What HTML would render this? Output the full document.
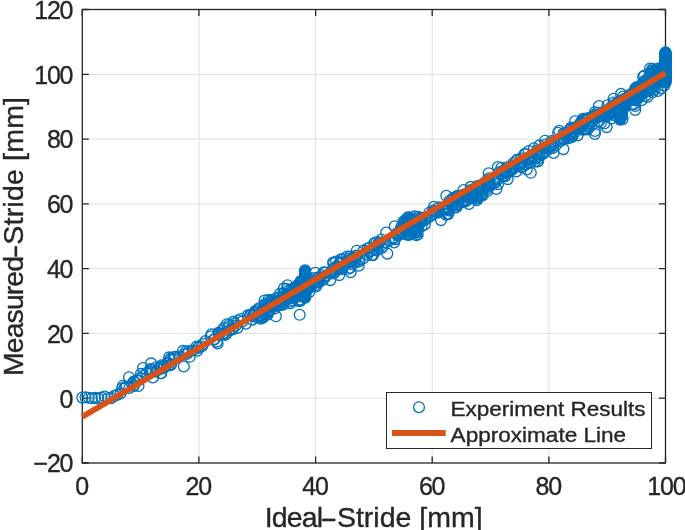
<!DOCTYPE html>
<html><head><meta charset="utf-8"><title>Stride plot</title>
<style>
html,body{margin:0;padding:0;background:#fff}
body{width:685px;height:530px;overflow:hidden;position:relative;font-family:"Liberation Sans",sans-serif;color:#262626}
svg{position:absolute;left:0;top:0}
svg text{font-family:"Liberation Sans",sans-serif;fill:#262626;stroke:#262626;stroke-width:0.35px}
.lbl{position:absolute;white-space:nowrap;line-height:1;color:#262626;-webkit-text-stroke:0.35px #262626}
.hy{display:inline-block}
</style></head><body>
<svg width="685" height="530" viewBox="0 0 685 530">
<rect width="685" height="530" fill="#fff"/>
<g stroke="#dfdfdf" stroke-width="1" fill="none"><path d="M198.9 9.5V463.0"/><path d="M315.6 9.5V463.0"/><path d="M432.2 9.5V463.0"/><path d="M548.9 9.5V463.0"/><path d="M82.3 398.2H665.5"/><path d="M82.3 333.4H665.5"/><path d="M82.3 268.6H665.5"/><path d="M82.3 203.9H665.5"/><path d="M82.3 139.1H665.5"/><path d="M82.3 74.3H665.5"/></g>
<g stroke="#262626" stroke-width="1.3" fill="none"><path d="M82.3 463.0v-6.5M82.3 9.5v6.5"/><path d="M198.9 463.0v-6.5M198.9 9.5v6.5"/><path d="M315.6 463.0v-6.5M315.6 9.5v6.5"/><path d="M432.2 463.0v-6.5M432.2 9.5v6.5"/><path d="M548.9 463.0v-6.5M548.9 9.5v6.5"/><path d="M665.5 463.0v-6.5M665.5 9.5v6.5"/><path d="M82.3 463.0h6.5M665.5 463.0h-6.5"/><path d="M82.3 398.2h6.5M665.5 398.2h-6.5"/><path d="M82.3 333.4h6.5M665.5 333.4h-6.5"/><path d="M82.3 268.6h6.5M665.5 268.6h-6.5"/><path d="M82.3 203.9h6.5M665.5 203.9h-6.5"/><path d="M82.3 139.1h6.5M665.5 139.1h-6.5"/><path d="M82.3 74.3h6.5M665.5 74.3h-6.5"/><path d="M82.3 9.5h6.5M665.5 9.5h-6.5"/><rect x="82.3" y="9.5" width="583.2" height="453.5"/></g>
<g stroke="#0072bd" stroke-width="1.3" fill="none"><circle cx="82.3" cy="397.6" r="5.4"/><circle cx="85.5" cy="397.3" r="5.4"/><circle cx="88.7" cy="397.8" r="5.4"/><circle cx="91.9" cy="398.3" r="5.4"/><circle cx="95.1" cy="397.9" r="5.4"/><circle cx="98.3" cy="398.4" r="5.4"/><circle cx="101.5" cy="397.5" r="5.4"/><circle cx="104.8" cy="396.5" r="5.4"/><circle cx="108.0" cy="398.0" r="5.4"/><circle cx="111.2" cy="398.1" r="5.4"/><circle cx="114.4" cy="395.9" r="5.4"/><circle cx="117.6" cy="394.6" r="5.4"/><circle cx="120.8" cy="393.3" r="5.4"/><circle cx="156.2" cy="367.2" r="5.4"/><circle cx="160.8" cy="373.3" r="5.4"/><circle cx="164.6" cy="366.3" r="5.4"/><circle cx="198.6" cy="347.0" r="5.4"/><circle cx="183.0" cy="350.9" r="5.4"/><circle cx="169.9" cy="359.8" r="5.4"/><circle cx="198.1" cy="348.0" r="5.4"/><circle cx="138.5" cy="380.3" r="5.4"/><circle cx="134.3" cy="382.3" r="5.4"/><circle cx="169.1" cy="357.4" r="5.4"/><circle cx="125.3" cy="387.9" r="5.4"/><circle cx="124.7" cy="387.8" r="5.4"/><circle cx="161.6" cy="365.3" r="5.4"/><circle cx="157.8" cy="368.8" r="5.4"/><circle cx="192.6" cy="350.5" r="5.4"/><circle cx="170.4" cy="365.3" r="5.4"/><circle cx="161.5" cy="366.5" r="5.4"/><circle cx="160.2" cy="368.6" r="5.4"/><circle cx="141.0" cy="373.9" r="5.4"/><circle cx="122.9" cy="385.7" r="5.4"/><circle cx="136.8" cy="380.2" r="5.4"/><circle cx="175.2" cy="356.9" r="5.4"/><circle cx="137.4" cy="380.8" r="5.4"/><circle cx="150.4" cy="369.0" r="5.4"/><circle cx="122.2" cy="388.2" r="5.4"/><circle cx="185.9" cy="351.5" r="5.4"/><circle cx="133.8" cy="385.9" r="5.4"/><circle cx="142.6" cy="375.7" r="5.4"/><circle cx="189.7" cy="356.8" r="5.4"/><circle cx="161.2" cy="373.2" r="5.4"/><circle cx="187.2" cy="353.7" r="5.4"/><circle cx="171.2" cy="364.2" r="5.4"/><circle cx="179.1" cy="356.5" r="5.4"/><circle cx="129.0" cy="377.2" r="5.4"/><circle cx="163.6" cy="368.0" r="5.4"/><circle cx="161.0" cy="368.7" r="5.4"/><circle cx="189.0" cy="351.1" r="5.4"/><circle cx="149.8" cy="371.2" r="5.4"/><circle cx="168.0" cy="363.5" r="5.4"/><circle cx="126.5" cy="386.5" r="5.4"/><circle cx="151.8" cy="369.4" r="5.4"/><circle cx="146.8" cy="372.7" r="5.4"/><circle cx="133.5" cy="385.3" r="5.4"/><circle cx="184.8" cy="354.3" r="5.4"/><circle cx="151.2" cy="371.9" r="5.4"/><circle cx="197.3" cy="350.7" r="5.4"/><circle cx="167.4" cy="362.5" r="5.4"/><circle cx="168.5" cy="365.5" r="5.4"/><circle cx="171.1" cy="358.2" r="5.4"/><circle cx="174.0" cy="359.1" r="5.4"/><circle cx="133.6" cy="381.6" r="5.4"/><circle cx="155.9" cy="371.4" r="5.4"/><circle cx="140.4" cy="378.4" r="5.4"/><circle cx="152.9" cy="377.5" r="5.4"/><circle cx="129.4" cy="387.9" r="5.4"/><circle cx="196.5" cy="346.6" r="5.4"/><circle cx="138.5" cy="386.0" r="5.4"/><circle cx="173.7" cy="357.2" r="5.4"/><circle cx="219.1" cy="334.9" r="5.4"/><circle cx="254.2" cy="314.2" r="5.4"/><circle cx="232.4" cy="329.5" r="5.4"/><circle cx="218.8" cy="333.5" r="5.4"/><circle cx="214.8" cy="339.0" r="5.4"/><circle cx="254.5" cy="314.8" r="5.4"/><circle cx="224.9" cy="335.0" r="5.4"/><circle cx="256.1" cy="317.3" r="5.4"/><circle cx="229.0" cy="324.7" r="5.4"/><circle cx="229.3" cy="330.5" r="5.4"/><circle cx="251.2" cy="315.3" r="5.4"/><circle cx="242.3" cy="321.5" r="5.4"/><circle cx="232.8" cy="328.3" r="5.4"/><circle cx="223.8" cy="333.7" r="5.4"/><circle cx="250.2" cy="314.8" r="5.4"/><circle cx="222.9" cy="333.5" r="5.4"/><circle cx="252.8" cy="315.8" r="5.4"/><circle cx="202.9" cy="344.1" r="5.4"/><circle cx="224.0" cy="328.1" r="5.4"/><circle cx="229.2" cy="326.7" r="5.4"/><circle cx="254.4" cy="313.1" r="5.4"/><circle cx="213.6" cy="339.8" r="5.4"/><circle cx="245.9" cy="323.7" r="5.4"/><circle cx="238.4" cy="320.6" r="5.4"/><circle cx="240.8" cy="319.1" r="5.4"/><circle cx="235.7" cy="325.7" r="5.4"/><circle cx="255.6" cy="311.9" r="5.4"/><circle cx="218.3" cy="332.7" r="5.4"/><circle cx="222.2" cy="330.3" r="5.4"/><circle cx="210.8" cy="336.6" r="5.4"/><circle cx="201.9" cy="346.2" r="5.4"/><circle cx="211.4" cy="334.4" r="5.4"/><circle cx="252.3" cy="319.6" r="5.4"/><circle cx="247.9" cy="315.3" r="5.4"/><circle cx="205.5" cy="341.1" r="5.4"/><circle cx="234.2" cy="323.3" r="5.4"/><circle cx="226.9" cy="324.2" r="5.4"/><circle cx="233.6" cy="321.6" r="5.4"/><circle cx="237.4" cy="327.9" r="5.4"/><circle cx="216.8" cy="341.6" r="5.4"/><circle cx="255.0" cy="311.4" r="5.4"/><circle cx="226.1" cy="334.0" r="5.4"/><circle cx="293.8" cy="292.3" r="5.4"/><circle cx="303.8" cy="280.7" r="5.4"/><circle cx="275.6" cy="298.5" r="5.4"/><circle cx="307.6" cy="288.8" r="5.4"/><circle cx="303.7" cy="290.5" r="5.4"/><circle cx="264.8" cy="310.7" r="5.4"/><circle cx="302.0" cy="286.7" r="5.4"/><circle cx="308.7" cy="285.1" r="5.4"/><circle cx="268.8" cy="305.4" r="5.4"/><circle cx="290.7" cy="292.9" r="5.4"/><circle cx="294.5" cy="293.3" r="5.4"/><circle cx="292.8" cy="293.2" r="5.4"/><circle cx="262.9" cy="308.7" r="5.4"/><circle cx="295.8" cy="291.7" r="5.4"/><circle cx="294.1" cy="290.1" r="5.4"/><circle cx="305.3" cy="278.2" r="5.4"/><circle cx="304.1" cy="284.2" r="5.4"/><circle cx="276.3" cy="301.9" r="5.4"/><circle cx="299.4" cy="296.4" r="5.4"/><circle cx="307.8" cy="283.1" r="5.4"/><circle cx="309.3" cy="292.1" r="5.4"/><circle cx="266.7" cy="313.4" r="5.4"/><circle cx="258.8" cy="308.3" r="5.4"/><circle cx="295.2" cy="288.7" r="5.4"/><circle cx="269.8" cy="306.4" r="5.4"/><circle cx="290.1" cy="301.7" r="5.4"/><circle cx="312.4" cy="283.8" r="5.4"/><circle cx="279.4" cy="303.3" r="5.4"/><circle cx="272.0" cy="301.9" r="5.4"/><circle cx="283.9" cy="288.4" r="5.4"/><circle cx="295.6" cy="290.5" r="5.4"/><circle cx="263.2" cy="312.7" r="5.4"/><circle cx="279.5" cy="305.3" r="5.4"/><circle cx="265.1" cy="308.6" r="5.4"/><circle cx="295.9" cy="292.0" r="5.4"/><circle cx="305.7" cy="290.7" r="5.4"/><circle cx="279.2" cy="300.0" r="5.4"/><circle cx="278.9" cy="305.5" r="5.4"/><circle cx="288.7" cy="290.6" r="5.4"/><circle cx="269.8" cy="301.3" r="5.4"/><circle cx="271.7" cy="300.1" r="5.4"/><circle cx="276.5" cy="304.0" r="5.4"/><circle cx="283.9" cy="295.7" r="5.4"/><circle cx="262.0" cy="310.6" r="5.4"/><circle cx="301.2" cy="290.0" r="5.4"/><circle cx="291.0" cy="295.4" r="5.4"/><circle cx="274.7" cy="308.5" r="5.4"/><circle cx="261.8" cy="316.3" r="5.4"/><circle cx="301.8" cy="284.7" r="5.4"/><circle cx="264.9" cy="309.3" r="5.4"/><circle cx="265.0" cy="307.5" r="5.4"/><circle cx="264.9" cy="304.3" r="5.4"/><circle cx="262.0" cy="317.4" r="5.4"/><circle cx="310.1" cy="286.8" r="5.4"/><circle cx="273.0" cy="303.3" r="5.4"/><circle cx="275.1" cy="301.1" r="5.4"/><circle cx="305.8" cy="287.4" r="5.4"/><circle cx="293.4" cy="288.3" r="5.4"/><circle cx="268.2" cy="305.8" r="5.4"/><circle cx="282.6" cy="303.8" r="5.4"/><circle cx="308.8" cy="288.1" r="5.4"/><circle cx="279.2" cy="297.2" r="5.4"/><circle cx="298.7" cy="287.8" r="5.4"/><circle cx="262.9" cy="317.6" r="5.4"/><circle cx="299.7" cy="283.5" r="5.4"/><circle cx="302.5" cy="285.1" r="5.4"/><circle cx="305.4" cy="280.4" r="5.4"/><circle cx="296.6" cy="292.5" r="5.4"/><circle cx="278.9" cy="302.0" r="5.4"/><circle cx="261.0" cy="315.4" r="5.4"/><circle cx="287.5" cy="285.2" r="5.4"/><circle cx="301.4" cy="288.9" r="5.4"/><circle cx="268.4" cy="299.9" r="5.4"/><circle cx="272.8" cy="306.8" r="5.4"/><circle cx="288.5" cy="294.7" r="5.4"/><circle cx="300.9" cy="295.5" r="5.4"/><circle cx="309.5" cy="285.4" r="5.4"/><circle cx="264.6" cy="304.5" r="5.4"/><circle cx="268.0" cy="312.0" r="5.4"/><circle cx="303.9" cy="282.3" r="5.4"/><circle cx="294.8" cy="290.4" r="5.4"/><circle cx="299.3" cy="293.8" r="5.4"/><circle cx="315.4" cy="282.7" r="5.4"/><circle cx="312.0" cy="284.4" r="5.4"/><circle cx="306.4" cy="285.7" r="5.4"/><circle cx="302.6" cy="289.8" r="5.4"/><circle cx="280.3" cy="303.4" r="5.4"/><circle cx="294.7" cy="293.2" r="5.4"/><circle cx="268.0" cy="311.1" r="5.4"/><circle cx="301.6" cy="293.6" r="5.4"/><circle cx="301.4" cy="288.4" r="5.4"/><circle cx="299.3" cy="285.7" r="5.4"/><circle cx="283.2" cy="304.8" r="5.4"/><circle cx="279.3" cy="300.5" r="5.4"/><circle cx="281.7" cy="301.9" r="5.4"/><circle cx="259.2" cy="315.7" r="5.4"/><circle cx="306.5" cy="281.8" r="5.4"/><circle cx="288.9" cy="297.3" r="5.4"/><circle cx="279.9" cy="293.9" r="5.4"/><circle cx="289.2" cy="298.3" r="5.4"/><circle cx="299.3" cy="287.7" r="5.4"/><circle cx="279.5" cy="301.3" r="5.4"/><circle cx="305.7" cy="289.0" r="5.4"/><circle cx="310.9" cy="280.6" r="5.4"/><circle cx="279.9" cy="300.8" r="5.4"/><circle cx="265.3" cy="305.7" r="5.4"/><circle cx="301.6" cy="288.3" r="5.4"/><circle cx="315.2" cy="285.3" r="5.4"/><circle cx="265.9" cy="308.4" r="5.4"/><circle cx="298.8" cy="289.4" r="5.4"/><circle cx="305.4" cy="282.0" r="5.4"/><circle cx="310.9" cy="286.8" r="5.4"/><circle cx="264.5" cy="308.9" r="5.4"/><circle cx="262.6" cy="317.0" r="5.4"/><circle cx="314.9" cy="278.1" r="5.4"/><circle cx="264.1" cy="313.5" r="5.4"/><circle cx="267.6" cy="314.6" r="5.4"/><circle cx="290.8" cy="294.4" r="5.4"/><circle cx="283.3" cy="293.6" r="5.4"/><circle cx="301.0" cy="294.8" r="5.4"/><circle cx="268.4" cy="311.1" r="5.4"/><circle cx="310.6" cy="286.3" r="5.4"/><circle cx="269.9" cy="310.4" r="5.4"/><circle cx="302.1" cy="286.2" r="5.4"/><circle cx="261.2" cy="313.9" r="5.4"/><circle cx="284.9" cy="300.4" r="5.4"/><circle cx="259.2" cy="309.2" r="5.4"/><circle cx="275.6" cy="305.7" r="5.4"/><circle cx="275.5" cy="300.8" r="5.4"/><circle cx="299.2" cy="293.5" r="5.4"/><circle cx="283.8" cy="303.1" r="5.4"/><circle cx="260.6" cy="318.6" r="5.4"/><circle cx="315.3" cy="272.8" r="5.4"/><circle cx="309.1" cy="285.4" r="5.4"/><circle cx="310.7" cy="282.1" r="5.4"/><circle cx="271.6" cy="304.9" r="5.4"/><circle cx="280.2" cy="299.3" r="5.4"/><circle cx="270.5" cy="305.2" r="5.4"/><circle cx="264.5" cy="300.6" r="5.4"/><circle cx="259.2" cy="316.0" r="5.4"/><circle cx="325.0" cy="272.5" r="5.4"/><circle cx="426.8" cy="218.7" r="5.4"/><circle cx="355.7" cy="258.9" r="5.4"/><circle cx="379.0" cy="242.2" r="5.4"/><circle cx="341.0" cy="259.4" r="5.4"/><circle cx="369.5" cy="251.8" r="5.4"/><circle cx="421.8" cy="219.7" r="5.4"/><circle cx="421.8" cy="218.8" r="5.4"/><circle cx="376.4" cy="242.3" r="5.4"/><circle cx="414.1" cy="224.0" r="5.4"/><circle cx="374.4" cy="243.0" r="5.4"/><circle cx="363.5" cy="258.1" r="5.4"/><circle cx="385.6" cy="242.2" r="5.4"/><circle cx="341.4" cy="267.2" r="5.4"/><circle cx="356.2" cy="255.5" r="5.4"/><circle cx="406.2" cy="224.6" r="5.4"/><circle cx="414.4" cy="229.3" r="5.4"/><circle cx="322.9" cy="280.0" r="5.4"/><circle cx="409.6" cy="225.2" r="5.4"/><circle cx="420.5" cy="222.7" r="5.4"/><circle cx="372.7" cy="255.1" r="5.4"/><circle cx="323.6" cy="272.3" r="5.4"/><circle cx="403.2" cy="228.6" r="5.4"/><circle cx="347.2" cy="261.5" r="5.4"/><circle cx="398.1" cy="235.4" r="5.4"/><circle cx="363.9" cy="250.4" r="5.4"/><circle cx="397.3" cy="235.0" r="5.4"/><circle cx="348.7" cy="258.5" r="5.4"/><circle cx="376.7" cy="250.4" r="5.4"/><circle cx="382.9" cy="246.3" r="5.4"/><circle cx="396.5" cy="233.9" r="5.4"/><circle cx="341.6" cy="269.0" r="5.4"/><circle cx="439.0" cy="207.2" r="5.4"/><circle cx="352.7" cy="259.4" r="5.4"/><circle cx="354.8" cy="262.6" r="5.4"/><circle cx="348.5" cy="262.4" r="5.4"/><circle cx="324.2" cy="277.1" r="5.4"/><circle cx="369.8" cy="247.6" r="5.4"/><circle cx="414.6" cy="226.0" r="5.4"/><circle cx="406.6" cy="229.9" r="5.4"/><circle cx="340.7" cy="262.4" r="5.4"/><circle cx="333.1" cy="262.6" r="5.4"/><circle cx="356.8" cy="250.7" r="5.4"/><circle cx="414.2" cy="223.6" r="5.4"/><circle cx="378.2" cy="245.3" r="5.4"/><circle cx="434.0" cy="206.8" r="5.4"/><circle cx="399.8" cy="233.0" r="5.4"/><circle cx="395.2" cy="239.1" r="5.4"/><circle cx="414.1" cy="223.5" r="5.4"/><circle cx="411.8" cy="223.5" r="5.4"/><circle cx="359.7" cy="259.6" r="5.4"/><circle cx="348.6" cy="268.8" r="5.4"/><circle cx="371.7" cy="255.3" r="5.4"/><circle cx="378.4" cy="243.5" r="5.4"/><circle cx="333.8" cy="273.5" r="5.4"/><circle cx="372.2" cy="250.3" r="5.4"/><circle cx="397.7" cy="233.1" r="5.4"/><circle cx="333.0" cy="268.8" r="5.4"/><circle cx="333.3" cy="272.2" r="5.4"/><circle cx="337.9" cy="266.6" r="5.4"/><circle cx="351.9" cy="264.1" r="5.4"/><circle cx="439.0" cy="211.0" r="5.4"/><circle cx="318.9" cy="282.5" r="5.4"/><circle cx="339.2" cy="263.5" r="5.4"/><circle cx="336.8" cy="269.1" r="5.4"/><circle cx="376.4" cy="250.0" r="5.4"/><circle cx="317.5" cy="280.8" r="5.4"/><circle cx="374.4" cy="249.3" r="5.4"/><circle cx="336.5" cy="266.6" r="5.4"/><circle cx="350.2" cy="267.7" r="5.4"/><circle cx="417.3" cy="226.0" r="5.4"/><circle cx="339.2" cy="269.1" r="5.4"/><circle cx="394.8" cy="226.3" r="5.4"/><circle cx="367.7" cy="248.6" r="5.4"/><circle cx="369.2" cy="251.8" r="5.4"/><circle cx="420.4" cy="217.7" r="5.4"/><circle cx="336.2" cy="261.6" r="5.4"/><circle cx="434.1" cy="213.3" r="5.4"/><circle cx="430.2" cy="216.1" r="5.4"/><circle cx="401.3" cy="227.1" r="5.4"/><circle cx="321.9" cy="275.2" r="5.4"/><circle cx="400.7" cy="229.5" r="5.4"/><circle cx="392.6" cy="239.0" r="5.4"/><circle cx="414.7" cy="216.4" r="5.4"/><circle cx="343.0" cy="259.3" r="5.4"/><circle cx="437.9" cy="208.2" r="5.4"/><circle cx="429.3" cy="212.7" r="5.4"/><circle cx="330.3" cy="280.1" r="5.4"/><circle cx="356.0" cy="256.2" r="5.4"/><circle cx="319.7" cy="279.0" r="5.4"/><circle cx="422.2" cy="217.7" r="5.4"/><circle cx="433.0" cy="210.6" r="5.4"/><circle cx="442.6" cy="208.9" r="5.4"/><circle cx="394.1" cy="242.4" r="5.4"/><circle cx="401.0" cy="230.4" r="5.4"/><circle cx="402.6" cy="233.6" r="5.4"/><circle cx="388.7" cy="240.7" r="5.4"/><circle cx="437.8" cy="212.6" r="5.4"/><circle cx="393.6" cy="237.7" r="5.4"/><circle cx="358.7" cy="265.7" r="5.4"/><circle cx="381.4" cy="239.6" r="5.4"/><circle cx="318.0" cy="278.3" r="5.4"/><circle cx="408.5" cy="223.0" r="5.4"/><circle cx="404.6" cy="222.2" r="5.4"/><circle cx="369.6" cy="251.1" r="5.4"/><circle cx="424.8" cy="224.5" r="5.4"/><circle cx="412.5" cy="228.1" r="5.4"/><circle cx="358.8" cy="261.5" r="5.4"/><circle cx="325.5" cy="277.0" r="5.4"/><circle cx="332.5" cy="271.0" r="5.4"/><circle cx="339.2" cy="275.1" r="5.4"/><circle cx="354.6" cy="258.1" r="5.4"/><circle cx="373.0" cy="254.9" r="5.4"/><circle cx="434.6" cy="211.1" r="5.4"/><circle cx="351.3" cy="261.5" r="5.4"/><circle cx="430.9" cy="215.5" r="5.4"/><circle cx="402.9" cy="230.9" r="5.4"/><circle cx="425.1" cy="219.6" r="5.4"/><circle cx="367.3" cy="254.7" r="5.4"/><circle cx="316.0" cy="286.5" r="5.4"/><circle cx="416.6" cy="222.6" r="5.4"/><circle cx="347.1" cy="256.6" r="5.4"/><circle cx="333.9" cy="263.2" r="5.4"/><circle cx="418.2" cy="216.7" r="5.4"/><circle cx="403.6" cy="227.5" r="5.4"/><circle cx="342.8" cy="268.3" r="5.4"/><circle cx="349.9" cy="256.5" r="5.4"/><circle cx="436.1" cy="211.6" r="5.4"/><circle cx="350.0" cy="262.1" r="5.4"/><circle cx="405.7" cy="230.0" r="5.4"/><circle cx="332.2" cy="271.2" r="5.4"/><circle cx="420.2" cy="222.1" r="5.4"/><circle cx="330.7" cy="272.6" r="5.4"/><circle cx="381.8" cy="247.9" r="5.4"/><circle cx="320.1" cy="279.4" r="5.4"/><circle cx="386.2" cy="232.6" r="5.4"/><circle cx="424.2" cy="218.4" r="5.4"/><circle cx="326.4" cy="275.5" r="5.4"/><circle cx="350.8" cy="259.4" r="5.4"/><circle cx="413.7" cy="221.5" r="5.4"/><circle cx="569.4" cy="135.4" r="5.4"/><circle cx="463.5" cy="190.0" r="5.4"/><circle cx="539.4" cy="145.4" r="5.4"/><circle cx="507.7" cy="179.1" r="5.4"/><circle cx="461.6" cy="202.4" r="5.4"/><circle cx="574.4" cy="128.4" r="5.4"/><circle cx="537.2" cy="150.4" r="5.4"/><circle cx="461.2" cy="195.6" r="5.4"/><circle cx="565.4" cy="136.8" r="5.4"/><circle cx="457.7" cy="198.4" r="5.4"/><circle cx="456.3" cy="198.3" r="5.4"/><circle cx="488.4" cy="183.5" r="5.4"/><circle cx="569.7" cy="129.7" r="5.4"/><circle cx="448.3" cy="213.9" r="5.4"/><circle cx="567.0" cy="132.9" r="5.4"/><circle cx="525.9" cy="164.5" r="5.4"/><circle cx="452.9" cy="198.7" r="5.4"/><circle cx="520.2" cy="164.7" r="5.4"/><circle cx="505.4" cy="176.1" r="5.4"/><circle cx="519.5" cy="162.6" r="5.4"/><circle cx="542.8" cy="153.9" r="5.4"/><circle cx="534.9" cy="158.6" r="5.4"/><circle cx="577.6" cy="135.4" r="5.4"/><circle cx="464.9" cy="196.9" r="5.4"/><circle cx="552.9" cy="142.1" r="5.4"/><circle cx="499.0" cy="172.3" r="5.4"/><circle cx="549.0" cy="147.1" r="5.4"/><circle cx="563.5" cy="133.4" r="5.4"/><circle cx="576.9" cy="129.4" r="5.4"/><circle cx="479.6" cy="189.2" r="5.4"/><circle cx="504.6" cy="170.7" r="5.4"/><circle cx="570.3" cy="129.2" r="5.4"/><circle cx="570.7" cy="134.6" r="5.4"/><circle cx="493.9" cy="180.7" r="5.4"/><circle cx="570.0" cy="134.4" r="5.4"/><circle cx="498.3" cy="176.6" r="5.4"/><circle cx="494.2" cy="183.2" r="5.4"/><circle cx="545.4" cy="144.5" r="5.4"/><circle cx="507.1" cy="173.2" r="5.4"/><circle cx="504.0" cy="171.5" r="5.4"/><circle cx="495.7" cy="181.9" r="5.4"/><circle cx="501.9" cy="173.2" r="5.4"/><circle cx="462.6" cy="196.3" r="5.4"/><circle cx="452.1" cy="204.7" r="5.4"/><circle cx="545.0" cy="140.7" r="5.4"/><circle cx="519.6" cy="162.6" r="5.4"/><circle cx="534.0" cy="148.3" r="5.4"/><circle cx="551.5" cy="141.1" r="5.4"/><circle cx="474.7" cy="194.5" r="5.4"/><circle cx="475.2" cy="193.1" r="5.4"/><circle cx="481.2" cy="186.0" r="5.4"/><circle cx="484.7" cy="185.3" r="5.4"/><circle cx="545.9" cy="148.2" r="5.4"/><circle cx="494.1" cy="180.8" r="5.4"/><circle cx="487.2" cy="191.3" r="5.4"/><circle cx="529.2" cy="159.2" r="5.4"/><circle cx="468.9" cy="203.9" r="5.4"/><circle cx="458.2" cy="198.6" r="5.4"/><circle cx="537.4" cy="156.4" r="5.4"/><circle cx="545.4" cy="151.6" r="5.4"/><circle cx="483.6" cy="187.1" r="5.4"/><circle cx="529.2" cy="157.2" r="5.4"/><circle cx="448.5" cy="210.5" r="5.4"/><circle cx="498.1" cy="184.1" r="5.4"/><circle cx="521.4" cy="167.3" r="5.4"/><circle cx="477.9" cy="198.1" r="5.4"/><circle cx="490.6" cy="185.7" r="5.4"/><circle cx="525.6" cy="154.0" r="5.4"/><circle cx="523.0" cy="166.3" r="5.4"/><circle cx="464.6" cy="194.4" r="5.4"/><circle cx="538.7" cy="158.3" r="5.4"/><circle cx="454.6" cy="200.5" r="5.4"/><circle cx="574.0" cy="132.6" r="5.4"/><circle cx="471.0" cy="194.1" r="5.4"/><circle cx="477.9" cy="187.6" r="5.4"/><circle cx="470.8" cy="186.9" r="5.4"/><circle cx="576.9" cy="128.7" r="5.4"/><circle cx="482.3" cy="186.6" r="5.4"/><circle cx="525.1" cy="164.7" r="5.4"/><circle cx="576.8" cy="127.2" r="5.4"/><circle cx="571.3" cy="133.9" r="5.4"/><circle cx="449.6" cy="200.8" r="5.4"/><circle cx="513.8" cy="167.7" r="5.4"/><circle cx="524.5" cy="154.1" r="5.4"/><circle cx="538.1" cy="161.1" r="5.4"/><circle cx="488.9" cy="184.1" r="5.4"/><circle cx="487.9" cy="180.0" r="5.4"/><circle cx="444.5" cy="208.0" r="5.4"/><circle cx="448.6" cy="207.8" r="5.4"/><circle cx="517.7" cy="166.3" r="5.4"/><circle cx="454.1" cy="207.6" r="5.4"/><circle cx="471.0" cy="193.4" r="5.4"/><circle cx="488.6" cy="173.2" r="5.4"/><circle cx="453.3" cy="197.7" r="5.4"/><circle cx="448.0" cy="209.4" r="5.4"/><circle cx="568.2" cy="138.3" r="5.4"/><circle cx="502.3" cy="176.1" r="5.4"/><circle cx="471.4" cy="189.7" r="5.4"/><circle cx="538.9" cy="155.9" r="5.4"/><circle cx="445.2" cy="209.1" r="5.4"/><circle cx="476.7" cy="187.0" r="5.4"/><circle cx="572.8" cy="128.5" r="5.4"/><circle cx="564.3" cy="138.7" r="5.4"/><circle cx="529.2" cy="162.9" r="5.4"/><circle cx="456.4" cy="207.2" r="5.4"/><circle cx="486.5" cy="187.2" r="5.4"/><circle cx="447.6" cy="214.1" r="5.4"/><circle cx="473.3" cy="189.7" r="5.4"/><circle cx="447.3" cy="207.8" r="5.4"/><circle cx="460.8" cy="196.8" r="5.4"/><circle cx="528.8" cy="151.0" r="5.4"/><circle cx="457.4" cy="195.7" r="5.4"/><circle cx="464.8" cy="201.6" r="5.4"/><circle cx="565.0" cy="133.3" r="5.4"/><circle cx="488.9" cy="178.2" r="5.4"/><circle cx="488.6" cy="186.1" r="5.4"/><circle cx="455.5" cy="205.2" r="5.4"/><circle cx="550.6" cy="146.0" r="5.4"/><circle cx="534.6" cy="161.6" r="5.4"/><circle cx="517.3" cy="159.5" r="5.4"/><circle cx="526.8" cy="169.5" r="5.4"/><circle cx="457.3" cy="204.9" r="5.4"/><circle cx="478.8" cy="190.4" r="5.4"/><circle cx="522.2" cy="163.5" r="5.4"/><circle cx="571.6" cy="132.1" r="5.4"/><circle cx="553.5" cy="142.7" r="5.4"/><circle cx="529.8" cy="158.8" r="5.4"/><circle cx="513.5" cy="163.1" r="5.4"/><circle cx="445.9" cy="214.6" r="5.4"/><circle cx="563.4" cy="137.8" r="5.4"/><circle cx="452.9" cy="205.5" r="5.4"/><circle cx="461.2" cy="198.1" r="5.4"/><circle cx="536.8" cy="152.9" r="5.4"/><circle cx="552.8" cy="147.9" r="5.4"/><circle cx="549.4" cy="148.9" r="5.4"/><circle cx="504.6" cy="169.8" r="5.4"/><circle cx="467.6" cy="194.1" r="5.4"/><circle cx="448.6" cy="207.4" r="5.4"/><circle cx="558.1" cy="132.7" r="5.4"/><circle cx="575.0" cy="121.3" r="5.4"/><circle cx="476.6" cy="196.6" r="5.4"/><circle cx="560.1" cy="138.6" r="5.4"/><circle cx="497.9" cy="167.0" r="5.4"/><circle cx="485.6" cy="181.8" r="5.4"/><circle cx="511.6" cy="167.9" r="5.4"/><circle cx="445.0" cy="207.2" r="5.4"/><circle cx="503.3" cy="176.0" r="5.4"/><circle cx="470.7" cy="194.9" r="5.4"/><circle cx="539.5" cy="154.5" r="5.4"/><circle cx="511.3" cy="166.0" r="5.4"/><circle cx="560.4" cy="141.2" r="5.4"/><circle cx="564.2" cy="139.1" r="5.4"/><circle cx="486.4" cy="189.4" r="5.4"/><circle cx="481.5" cy="187.8" r="5.4"/><circle cx="569.9" cy="137.4" r="5.4"/><circle cx="511.5" cy="169.6" r="5.4"/><circle cx="456.8" cy="196.5" r="5.4"/><circle cx="450.0" cy="202.5" r="5.4"/><circle cx="576.7" cy="127.6" r="5.4"/><circle cx="521.6" cy="161.5" r="5.4"/><circle cx="451.2" cy="203.2" r="5.4"/><circle cx="512.5" cy="168.8" r="5.4"/><circle cx="511.5" cy="170.2" r="5.4"/><circle cx="502.3" cy="171.3" r="5.4"/><circle cx="571.5" cy="137.2" r="5.4"/><circle cx="571.1" cy="127.6" r="5.4"/><circle cx="460.6" cy="198.7" r="5.4"/><circle cx="464.2" cy="200.2" r="5.4"/><circle cx="498.5" cy="178.8" r="5.4"/><circle cx="555.8" cy="145.2" r="5.4"/><circle cx="527.6" cy="158.7" r="5.4"/><circle cx="541.8" cy="153.7" r="5.4"/><circle cx="521.2" cy="158.5" r="5.4"/><circle cx="472.1" cy="196.6" r="5.4"/><circle cx="553.6" cy="152.9" r="5.4"/><circle cx="445.8" cy="209.0" r="5.4"/><circle cx="537.6" cy="161.5" r="5.4"/><circle cx="470.0" cy="194.6" r="5.4"/><circle cx="507.1" cy="167.3" r="5.4"/><circle cx="574.7" cy="128.2" r="5.4"/><circle cx="516.2" cy="171.5" r="5.4"/><circle cx="451.5" cy="206.3" r="5.4"/><circle cx="501.4" cy="167.8" r="5.4"/><circle cx="532.4" cy="155.1" r="5.4"/><circle cx="451.5" cy="203.2" r="5.4"/><circle cx="477.8" cy="185.7" r="5.4"/><circle cx="446.3" cy="195.8" r="5.4"/><circle cx="516.3" cy="160.8" r="5.4"/><circle cx="495.1" cy="178.4" r="5.4"/><circle cx="511.4" cy="167.5" r="5.4"/><circle cx="483.6" cy="183.8" r="5.4"/><circle cx="532.0" cy="159.2" r="5.4"/><circle cx="467.1" cy="200.1" r="5.4"/><circle cx="565.5" cy="136.2" r="5.4"/><circle cx="572.7" cy="135.9" r="5.4"/><circle cx="510.0" cy="170.0" r="5.4"/><circle cx="506.3" cy="171.6" r="5.4"/><circle cx="559.2" cy="130.8" r="5.4"/><circle cx="482.8" cy="190.2" r="5.4"/><circle cx="551.6" cy="145.4" r="5.4"/><circle cx="619.1" cy="105.3" r="5.4"/><circle cx="636.7" cy="90.9" r="5.4"/><circle cx="629.4" cy="95.0" r="5.4"/><circle cx="588.3" cy="118.0" r="5.4"/><circle cx="608.6" cy="109.6" r="5.4"/><circle cx="609.6" cy="112.4" r="5.4"/><circle cx="641.5" cy="91.9" r="5.4"/><circle cx="583.6" cy="123.6" r="5.4"/><circle cx="610.8" cy="107.5" r="5.4"/><circle cx="636.7" cy="88.5" r="5.4"/><circle cx="603.6" cy="112.1" r="5.4"/><circle cx="594.8" cy="114.8" r="5.4"/><circle cx="613.7" cy="102.5" r="5.4"/><circle cx="598.6" cy="115.8" r="5.4"/><circle cx="637.5" cy="98.2" r="5.4"/><circle cx="583.5" cy="129.7" r="5.4"/><circle cx="591.3" cy="125.8" r="5.4"/><circle cx="583.4" cy="119.9" r="5.4"/><circle cx="623.7" cy="104.9" r="5.4"/><circle cx="596.8" cy="113.0" r="5.4"/><circle cx="635.8" cy="92.0" r="5.4"/><circle cx="635.3" cy="88.3" r="5.4"/><circle cx="638.1" cy="88.9" r="5.4"/><circle cx="594.5" cy="119.2" r="5.4"/><circle cx="578.1" cy="129.5" r="5.4"/><circle cx="602.9" cy="113.7" r="5.4"/><circle cx="639.8" cy="90.6" r="5.4"/><circle cx="627.0" cy="101.7" r="5.4"/><circle cx="581.8" cy="126.6" r="5.4"/><circle cx="623.1" cy="96.6" r="5.4"/><circle cx="636.9" cy="99.4" r="5.4"/><circle cx="640.1" cy="90.1" r="5.4"/><circle cx="624.0" cy="105.0" r="5.4"/><circle cx="633.4" cy="95.0" r="5.4"/><circle cx="632.0" cy="93.5" r="5.4"/><circle cx="601.0" cy="115.3" r="5.4"/><circle cx="584.4" cy="122.2" r="5.4"/><circle cx="624.7" cy="106.9" r="5.4"/><circle cx="586.8" cy="119.5" r="5.4"/><circle cx="602.7" cy="116.3" r="5.4"/><circle cx="641.9" cy="87.4" r="5.4"/><circle cx="613.9" cy="107.1" r="5.4"/><circle cx="611.5" cy="118.4" r="5.4"/><circle cx="638.8" cy="94.6" r="5.4"/><circle cx="596.2" cy="116.9" r="5.4"/><circle cx="642.1" cy="83.9" r="5.4"/><circle cx="636.5" cy="92.6" r="5.4"/><circle cx="601.4" cy="113.9" r="5.4"/><circle cx="599.0" cy="121.2" r="5.4"/><circle cx="586.1" cy="118.8" r="5.4"/><circle cx="636.8" cy="87.0" r="5.4"/><circle cx="589.9" cy="121.4" r="5.4"/><circle cx="578.6" cy="129.3" r="5.4"/><circle cx="635.1" cy="100.3" r="5.4"/><circle cx="616.4" cy="103.3" r="5.4"/><circle cx="621.1" cy="93.9" r="5.4"/><circle cx="625.1" cy="98.5" r="5.4"/><circle cx="580.8" cy="122.6" r="5.4"/><circle cx="583.9" cy="123.3" r="5.4"/><circle cx="610.1" cy="113.5" r="5.4"/><circle cx="581.2" cy="122.1" r="5.4"/><circle cx="610.4" cy="114.2" r="5.4"/><circle cx="625.3" cy="101.6" r="5.4"/><circle cx="620.2" cy="103.2" r="5.4"/><circle cx="617.6" cy="102.6" r="5.4"/><circle cx="581.0" cy="125.5" r="5.4"/><circle cx="593.2" cy="118.2" r="5.4"/><circle cx="635.6" cy="96.9" r="5.4"/><circle cx="585.9" cy="128.6" r="5.4"/><circle cx="612.2" cy="108.5" r="5.4"/><circle cx="581.2" cy="129.4" r="5.4"/><circle cx="638.3" cy="97.0" r="5.4"/><circle cx="589.0" cy="126.6" r="5.4"/><circle cx="604.3" cy="114.9" r="5.4"/><circle cx="613.1" cy="114.9" r="5.4"/><circle cx="624.1" cy="106.4" r="5.4"/><circle cx="638.2" cy="98.2" r="5.4"/><circle cx="625.3" cy="100.2" r="5.4"/><circle cx="600.3" cy="114.0" r="5.4"/><circle cx="582.9" cy="118.7" r="5.4"/><circle cx="623.4" cy="107.4" r="5.4"/><circle cx="640.4" cy="93.2" r="5.4"/><circle cx="579.1" cy="124.9" r="5.4"/><circle cx="627.7" cy="100.1" r="5.4"/><circle cx="589.3" cy="123.1" r="5.4"/><circle cx="607.5" cy="105.3" r="5.4"/><circle cx="611.5" cy="110.3" r="5.4"/><circle cx="617.4" cy="109.9" r="5.4"/><circle cx="641.5" cy="94.6" r="5.4"/><circle cx="622.1" cy="101.7" r="5.4"/><circle cx="603.2" cy="112.7" r="5.4"/><circle cx="623.9" cy="106.7" r="5.4"/><circle cx="608.0" cy="114.7" r="5.4"/><circle cx="604.5" cy="111.2" r="5.4"/><circle cx="601.5" cy="112.7" r="5.4"/><circle cx="609.7" cy="112.5" r="5.4"/><circle cx="596.1" cy="115.6" r="5.4"/><circle cx="593.6" cy="117.3" r="5.4"/><circle cx="587.5" cy="129.4" r="5.4"/><circle cx="606.3" cy="113.2" r="5.4"/><circle cx="596.8" cy="115.9" r="5.4"/><circle cx="631.7" cy="98.8" r="5.4"/><circle cx="632.4" cy="103.9" r="5.4"/><circle cx="600.1" cy="116.6" r="5.4"/><circle cx="617.7" cy="103.0" r="5.4"/><circle cx="635.9" cy="88.4" r="5.4"/><circle cx="601.1" cy="122.8" r="5.4"/><circle cx="613.6" cy="98.7" r="5.4"/><circle cx="606.5" cy="116.0" r="5.4"/><circle cx="619.7" cy="101.0" r="5.4"/><circle cx="639.6" cy="86.9" r="5.4"/><circle cx="586.9" cy="119.9" r="5.4"/><circle cx="640.0" cy="90.5" r="5.4"/><circle cx="620.7" cy="108.0" r="5.4"/><circle cx="629.1" cy="96.2" r="5.4"/><circle cx="618.8" cy="107.6" r="5.4"/><circle cx="633.9" cy="104.3" r="5.4"/><circle cx="598.9" cy="106.1" r="5.4"/><circle cx="623.4" cy="99.5" r="5.4"/><circle cx="595.0" cy="112.0" r="5.4"/><circle cx="658.1" cy="69.9" r="5.4"/><circle cx="658.0" cy="73.8" r="5.4"/><circle cx="665.1" cy="73.9" r="5.4"/><circle cx="647.3" cy="79.1" r="5.4"/><circle cx="654.0" cy="87.6" r="5.4"/><circle cx="644.3" cy="81.1" r="5.4"/><circle cx="651.3" cy="85.7" r="5.4"/><circle cx="664.3" cy="85.5" r="5.4"/><circle cx="644.2" cy="75.9" r="5.4"/><circle cx="659.8" cy="69.1" r="5.4"/><circle cx="662.4" cy="79.1" r="5.4"/><circle cx="654.0" cy="79.9" r="5.4"/><circle cx="660.8" cy="76.6" r="5.4"/><circle cx="652.5" cy="81.4" r="5.4"/><circle cx="650.4" cy="90.1" r="5.4"/><circle cx="654.0" cy="83.8" r="5.4"/><circle cx="646.7" cy="84.0" r="5.4"/><circle cx="649.3" cy="83.1" r="5.4"/><circle cx="649.3" cy="78.7" r="5.4"/><circle cx="665.2" cy="71.9" r="5.4"/><circle cx="650.0" cy="73.0" r="5.4"/><circle cx="647.5" cy="88.8" r="5.4"/><circle cx="664.1" cy="71.9" r="5.4"/><circle cx="645.4" cy="95.7" r="5.4"/><circle cx="664.7" cy="78.3" r="5.4"/><circle cx="662.1" cy="68.6" r="5.4"/><circle cx="657.3" cy="82.5" r="5.4"/><circle cx="652.2" cy="79.7" r="5.4"/><circle cx="646.8" cy="86.3" r="5.4"/><circle cx="644.6" cy="92.4" r="5.4"/><circle cx="644.6" cy="89.2" r="5.4"/><circle cx="650.3" cy="85.8" r="5.4"/><circle cx="651.7" cy="84.6" r="5.4"/><circle cx="663.7" cy="69.9" r="5.4"/><circle cx="654.7" cy="77.2" r="5.4"/><circle cx="665.3" cy="74.8" r="5.4"/><circle cx="659.0" cy="81.1" r="5.4"/><circle cx="645.6" cy="85.6" r="5.4"/><circle cx="655.1" cy="80.3" r="5.4"/><circle cx="645.9" cy="82.0" r="5.4"/><circle cx="643.1" cy="76.7" r="5.4"/><circle cx="664.2" cy="69.2" r="5.4"/><circle cx="650.1" cy="83.8" r="5.4"/><circle cx="646.6" cy="87.0" r="5.4"/><circle cx="644.5" cy="91.6" r="5.4"/><circle cx="657.4" cy="82.3" r="5.4"/><circle cx="652.9" cy="86.1" r="5.4"/><circle cx="642.4" cy="91.0" r="5.4"/><circle cx="658.9" cy="79.0" r="5.4"/><circle cx="648.2" cy="81.7" r="5.4"/><circle cx="660.4" cy="77.7" r="5.4"/><circle cx="653.6" cy="81.9" r="5.4"/><circle cx="654.7" cy="85.7" r="5.4"/><circle cx="652.8" cy="74.1" r="5.4"/><circle cx="657.9" cy="75.4" r="5.4"/><circle cx="305.1" cy="297.8" r="5.4"/><circle cx="305.1" cy="297.1" r="5.4"/><circle cx="305.1" cy="296.4" r="5.4"/><circle cx="305.1" cy="295.7" r="5.4"/><circle cx="305.1" cy="295.0" r="5.4"/><circle cx="305.1" cy="294.3" r="5.4"/><circle cx="305.1" cy="293.6" r="5.4"/><circle cx="305.1" cy="292.9" r="5.4"/><circle cx="305.1" cy="292.1" r="5.4"/><circle cx="305.1" cy="291.4" r="5.4"/><circle cx="305.1" cy="290.7" r="5.4"/><circle cx="305.1" cy="290.0" r="5.4"/><circle cx="305.1" cy="289.3" r="5.4"/><circle cx="305.1" cy="288.6" r="5.4"/><circle cx="305.1" cy="287.9" r="5.4"/><circle cx="305.1" cy="287.2" r="5.4"/><circle cx="305.1" cy="286.5" r="5.4"/><circle cx="305.1" cy="285.8" r="5.4"/><circle cx="305.1" cy="285.1" r="5.4"/><circle cx="305.1" cy="284.4" r="5.4"/><circle cx="305.1" cy="283.7" r="5.4"/><circle cx="305.1" cy="283.0" r="5.4"/><circle cx="305.1" cy="282.3" r="5.4"/><circle cx="305.1" cy="281.6" r="5.4"/><circle cx="305.1" cy="280.9" r="5.4"/><circle cx="305.1" cy="280.1" r="5.4"/><circle cx="305.1" cy="279.4" r="5.4"/><circle cx="305.1" cy="278.7" r="5.4"/><circle cx="305.1" cy="278.0" r="5.4"/><circle cx="305.1" cy="277.3" r="5.4"/><circle cx="305.1" cy="276.6" r="5.4"/><circle cx="305.1" cy="275.9" r="5.4"/><circle cx="305.1" cy="275.2" r="5.4"/><circle cx="305.1" cy="274.5" r="5.4"/><circle cx="305.1" cy="273.8" r="5.4"/><circle cx="305.1" cy="273.1" r="5.4"/><circle cx="305.1" cy="272.4" r="5.4"/><circle cx="305.1" cy="271.7" r="5.4"/><circle cx="305.1" cy="271.0" r="5.4"/><circle cx="305.1" cy="270.3" r="5.4"/><circle cx="417.5" cy="226.7" r="5.4"/><circle cx="416.4" cy="225.4" r="5.4"/><circle cx="413.7" cy="230.9" r="5.4"/><circle cx="406.9" cy="231.8" r="5.4"/><circle cx="417.2" cy="227.6" r="5.4"/><circle cx="413.9" cy="228.6" r="5.4"/><circle cx="408.9" cy="234.9" r="5.4"/><circle cx="408.1" cy="220.4" r="5.4"/><circle cx="409.0" cy="227.2" r="5.4"/><circle cx="411.7" cy="225.3" r="5.4"/><circle cx="406.1" cy="219.4" r="5.4"/><circle cx="415.4" cy="229.3" r="5.4"/><circle cx="409.9" cy="218.9" r="5.4"/><circle cx="413.2" cy="223.1" r="5.4"/><circle cx="405.2" cy="220.5" r="5.4"/><circle cx="421.7" cy="226.2" r="5.4"/><circle cx="414.8" cy="226.8" r="5.4"/><circle cx="410.8" cy="226.4" r="5.4"/><circle cx="407.0" cy="221.1" r="5.4"/><circle cx="416.5" cy="232.7" r="5.4"/><circle cx="409.7" cy="228.2" r="5.4"/><circle cx="409.6" cy="217.6" r="5.4"/><circle cx="408.0" cy="217.4" r="5.4"/><circle cx="406.7" cy="222.8" r="5.4"/><circle cx="410.8" cy="228.4" r="5.4"/><circle cx="411.2" cy="219.9" r="5.4"/><circle cx="409.6" cy="233.8" r="5.4"/><circle cx="407.2" cy="229.3" r="5.4"/><circle cx="416.4" cy="235.2" r="5.4"/><circle cx="416.8" cy="218.7" r="5.4"/><circle cx="408.1" cy="223.7" r="5.4"/><circle cx="415.6" cy="231.2" r="5.4"/><circle cx="411.2" cy="221.2" r="5.4"/><circle cx="410.8" cy="232.3" r="5.4"/><circle cx="418.2" cy="228.3" r="5.4"/><circle cx="417.8" cy="234.2" r="5.4"/><circle cx="409.5" cy="227.0" r="5.4"/><circle cx="413.5" cy="228.2" r="5.4"/><circle cx="408.8" cy="228.3" r="5.4"/><circle cx="405.2" cy="226.1" r="5.4"/><circle cx="414.1" cy="220.6" r="5.4"/><circle cx="412.6" cy="226.8" r="5.4"/><circle cx="413.6" cy="221.4" r="5.4"/><circle cx="418.9" cy="220.3" r="5.4"/><circle cx="409.9" cy="222.0" r="5.4"/><circle cx="412.7" cy="222.4" r="5.4"/><circle cx="411.5" cy="230.5" r="5.4"/><circle cx="404.2" cy="227.9" r="5.4"/><circle cx="410.2" cy="223.1" r="5.4"/><circle cx="405.3" cy="221.0" r="5.4"/><circle cx="411.1" cy="223.4" r="5.4"/><circle cx="407.1" cy="234.6" r="5.4"/><circle cx="406.9" cy="230.3" r="5.4"/><circle cx="415.9" cy="232.1" r="5.4"/><circle cx="409.4" cy="228.9" r="5.4"/><circle cx="409.8" cy="225.5" r="5.4"/><circle cx="412.0" cy="230.7" r="5.4"/><circle cx="403.3" cy="221.7" r="5.4"/><circle cx="407.6" cy="234.0" r="5.4"/><circle cx="408.2" cy="224.6" r="5.4"/><circle cx="475.5" cy="198.7" r="5.4"/><circle cx="474.7" cy="194.9" r="5.4"/><circle cx="471.2" cy="195.7" r="5.4"/><circle cx="481.1" cy="195.1" r="5.4"/><circle cx="471.5" cy="196.3" r="5.4"/><circle cx="470.4" cy="195.3" r="5.4"/><circle cx="477.8" cy="198.5" r="5.4"/><circle cx="473.3" cy="192.8" r="5.4"/><circle cx="472.1" cy="195.5" r="5.4"/><circle cx="469.9" cy="198.5" r="5.4"/><circle cx="472.1" cy="189.7" r="5.4"/><circle cx="472.5" cy="197.6" r="5.4"/><circle cx="471.9" cy="196.6" r="5.4"/><circle cx="476.9" cy="195.5" r="5.4"/><circle cx="482.6" cy="195.5" r="5.4"/><circle cx="480.1" cy="195.3" r="5.4"/><circle cx="476.7" cy="200.3" r="5.4"/><circle cx="473.7" cy="196.3" r="5.4"/><circle cx="298.3" cy="301.0" r="5.4"/><circle cx="305.5" cy="287.1" r="5.4"/><circle cx="297.0" cy="291.3" r="5.4"/><circle cx="298.4" cy="286.9" r="5.4"/><circle cx="291.7" cy="298.2" r="5.4"/><circle cx="301.7" cy="286.4" r="5.4"/><circle cx="297.4" cy="292.8" r="5.4"/><circle cx="294.5" cy="291.7" r="5.4"/><circle cx="307.4" cy="289.6" r="5.4"/><circle cx="309.6" cy="277.9" r="5.4"/><circle cx="296.9" cy="285.7" r="5.4"/><circle cx="290.4" cy="303.3" r="5.4"/><circle cx="291.6" cy="295.4" r="5.4"/><circle cx="297.7" cy="292.3" r="5.4"/><circle cx="300.5" cy="299.6" r="5.4"/><circle cx="303.0" cy="294.2" r="5.4"/><circle cx="295.6" cy="293.0" r="5.4"/><circle cx="292.4" cy="300.2" r="5.4"/><circle cx="293.4" cy="292.1" r="5.4"/><circle cx="303.6" cy="282.9" r="5.4"/><circle cx="293.5" cy="296.4" r="5.4"/><circle cx="293.9" cy="289.3" r="5.4"/><circle cx="286.8" cy="289.1" r="5.4"/><circle cx="296.7" cy="294.4" r="5.4"/><circle cx="302.0" cy="281.3" r="5.4"/><circle cx="302.0" cy="281.2" r="5.4"/><circle cx="300.7" cy="281.0" r="5.4"/><circle cx="307.8" cy="284.1" r="5.4"/><circle cx="309.1" cy="281.9" r="5.4"/><circle cx="300.4" cy="293.0" r="5.4"/><circle cx="298.0" cy="285.1" r="5.4"/><circle cx="291.4" cy="289.6" r="5.4"/><circle cx="302.1" cy="285.4" r="5.4"/><circle cx="285.7" cy="297.2" r="5.4"/><circle cx="304.0" cy="290.0" r="5.4"/><circle cx="300.4" cy="301.0" r="5.4"/><circle cx="304.1" cy="289.4" r="5.4"/><circle cx="305.4" cy="295.1" r="5.4"/><circle cx="304.3" cy="286.9" r="5.4"/><circle cx="305.0" cy="290.3" r="5.4"/><circle cx="620.1" cy="119.6" r="5.4"/><circle cx="622.6" cy="119.1" r="5.4"/><circle cx="619.9" cy="118.6" r="5.4"/><circle cx="620.0" cy="118.0" r="5.4"/><circle cx="620.4" cy="117.5" r="5.4"/><circle cx="619.7" cy="116.9" r="5.4"/><circle cx="621.6" cy="116.4" r="5.4"/><circle cx="622.1" cy="115.9" r="5.4"/><circle cx="620.0" cy="115.3" r="5.4"/><circle cx="619.1" cy="114.8" r="5.4"/><circle cx="621.6" cy="114.2" r="5.4"/><circle cx="621.6" cy="113.7" r="5.4"/><circle cx="621.3" cy="113.2" r="5.4"/><circle cx="621.6" cy="112.6" r="5.4"/><circle cx="619.8" cy="112.1" r="5.4"/><circle cx="620.4" cy="111.5" r="5.4"/><circle cx="619.4" cy="111.0" r="5.4"/><circle cx="619.4" cy="110.5" r="5.4"/><circle cx="621.5" cy="109.9" r="5.4"/><circle cx="620.0" cy="109.4" r="5.4"/><circle cx="622.6" cy="108.8" r="5.4"/><circle cx="620.7" cy="108.3" r="5.4"/><circle cx="620.0" cy="107.8" r="5.4"/><circle cx="621.3" cy="107.2" r="5.4"/><circle cx="622.2" cy="106.7" r="5.4"/><circle cx="665.5" cy="82.4" r="5.4"/><circle cx="665.5" cy="81.9" r="5.4"/><circle cx="665.5" cy="81.4" r="5.4"/><circle cx="665.5" cy="80.9" r="5.4"/><circle cx="665.5" cy="80.3" r="5.4"/><circle cx="665.5" cy="79.8" r="5.4"/><circle cx="665.5" cy="79.3" r="5.4"/><circle cx="665.5" cy="78.8" r="5.4"/><circle cx="665.5" cy="78.3" r="5.4"/><circle cx="665.5" cy="77.8" r="5.4"/><circle cx="665.5" cy="77.3" r="5.4"/><circle cx="665.5" cy="76.8" r="5.4"/><circle cx="665.5" cy="76.3" r="5.4"/><circle cx="665.5" cy="75.7" r="5.4"/><circle cx="665.5" cy="75.2" r="5.4"/><circle cx="665.5" cy="74.7" r="5.4"/><circle cx="665.5" cy="74.2" r="5.4"/><circle cx="665.5" cy="73.7" r="5.4"/><circle cx="665.5" cy="73.2" r="5.4"/><circle cx="665.5" cy="72.7" r="5.4"/><circle cx="665.5" cy="72.2" r="5.4"/><circle cx="665.5" cy="71.7" r="5.4"/><circle cx="665.5" cy="71.2" r="5.4"/><circle cx="665.5" cy="70.6" r="5.4"/><circle cx="665.5" cy="70.1" r="5.4"/><circle cx="665.5" cy="69.6" r="5.4"/><circle cx="665.5" cy="69.1" r="5.4"/><circle cx="665.5" cy="68.6" r="5.4"/><circle cx="665.5" cy="68.1" r="5.4"/><circle cx="665.5" cy="67.6" r="5.4"/><circle cx="665.5" cy="67.1" r="5.4"/><circle cx="665.5" cy="66.6" r="5.4"/><circle cx="665.5" cy="66.0" r="5.4"/><circle cx="665.5" cy="65.5" r="5.4"/><circle cx="665.5" cy="65.0" r="5.4"/><circle cx="665.5" cy="64.5" r="5.4"/><circle cx="665.5" cy="64.0" r="5.4"/><circle cx="665.5" cy="63.5" r="5.4"/><circle cx="665.5" cy="63.0" r="5.4"/><circle cx="665.5" cy="62.5" r="5.4"/><circle cx="665.5" cy="62.0" r="5.4"/><circle cx="665.5" cy="61.4" r="5.4"/><circle cx="665.5" cy="60.9" r="5.4"/><circle cx="665.5" cy="60.4" r="5.4"/><circle cx="665.5" cy="59.9" r="5.4"/><circle cx="665.5" cy="59.4" r="5.4"/><circle cx="665.5" cy="58.9" r="5.4"/><circle cx="665.5" cy="58.4" r="5.4"/><circle cx="665.5" cy="57.9" r="5.4"/><circle cx="665.5" cy="57.4" r="5.4"/><circle cx="665.5" cy="56.9" r="5.4"/><circle cx="665.5" cy="56.3" r="5.4"/><circle cx="665.5" cy="55.8" r="5.4"/><circle cx="665.5" cy="55.3" r="5.4"/><circle cx="665.5" cy="54.8" r="5.4"/><circle cx="665.5" cy="54.3" r="5.4"/><circle cx="665.5" cy="53.8" r="5.4"/><circle cx="665.5" cy="53.3" r="5.4"/><circle cx="665.5" cy="52.8" r="5.4"/><circle cx="665.5" cy="52.3" r="5.4"/><circle cx="664.4" cy="69.7" r="5.4"/><circle cx="652.0" cy="72.4" r="5.4"/><circle cx="658.5" cy="71.3" r="5.4"/><circle cx="654.6" cy="74.8" r="5.4"/><circle cx="653.5" cy="75.8" r="5.4"/><circle cx="652.5" cy="68.9" r="5.4"/><circle cx="663.7" cy="75.1" r="5.4"/><circle cx="660.7" cy="73.6" r="5.4"/><circle cx="654.2" cy="75.2" r="5.4"/><circle cx="665.0" cy="75.3" r="5.4"/><circle cx="658.9" cy="68.4" r="5.4"/><circle cx="654.4" cy="70.0" r="5.4"/><circle cx="651.5" cy="70.8" r="5.4"/><circle cx="662.5" cy="69.7" r="5.4"/><circle cx="665.1" cy="71.1" r="5.4"/><circle cx="665.1" cy="76.0" r="5.4"/><circle cx="658.0" cy="76.7" r="5.4"/><circle cx="651.1" cy="74.2" r="5.4"/><circle cx="661.1" cy="70.3" r="5.4"/><circle cx="650.0" cy="68.5" r="5.4"/><circle cx="653.6" cy="75.8" r="5.4"/><circle cx="662.9" cy="69.0" r="5.4"/><circle cx="661.3" cy="75.4" r="5.4"/><circle cx="657.0" cy="69.7" r="5.4"/><circle cx="655.4" cy="70.0" r="5.4"/><circle cx="299.7" cy="314.8" r="5.4"/><circle cx="275.9" cy="316.3" r="5.4"/><circle cx="530.8" cy="172.8" r="5.4"/><circle cx="183.8" cy="366.5" r="5.4"/><circle cx="217.6" cy="343.5" r="5.4"/><circle cx="151.1" cy="363.4" r="5.4"/><circle cx="143.0" cy="368.1" r="5.4"/><circle cx="387.3" cy="253.6" r="5.4"/><circle cx="594.9" cy="133.9" r="5.4"/><circle cx="604.3" cy="123.5" r="5.4"/><circle cx="563.4" cy="149.1" r="5.4"/><circle cx="496.4" cy="189.0" r="5.4"/><circle cx="635.2" cy="106.0" r="5.4"/><circle cx="350.6" cy="272.2" r="5.4"/><circle cx="441.0" cy="220.1" r="5.4"/><circle cx="657.9" cy="91.0" r="5.4"/><circle cx="652.7" cy="92.1" r="5.4"/><circle cx="661.4" cy="88.5" r="5.4"/><circle cx="647.4" cy="97.0" r="5.4"/><circle cx="635.2" cy="109.9" r="5.4"/><circle cx="606.6" cy="127.1" r="5.4"/><circle cx="594.9" cy="131.0" r="5.4"/><circle cx="655.0" cy="89.5" r="5.4"/><circle cx="641.6" cy="100.2" r="5.4"/></g>
<path d="M82.3 416.8L665.5 73.0" stroke="#d95319" stroke-width="5.9" fill="none"/>
<g font-size="25" letter-spacing="-1.2"><text x="81.7" y="494.5" text-anchor="middle">0</text><text x="198.3" y="494.5" text-anchor="middle">20</text><text x="315.0" y="494.5" text-anchor="middle">40</text><text x="431.6" y="494.5" text-anchor="middle">60</text><text x="548.3" y="494.5" text-anchor="middle">80</text><text x="666.4" y="494.5" text-anchor="middle">100</text><text x="72.3" y="472.3" text-anchor="end">−20</text><text x="72.3" y="407.5" text-anchor="end">0</text><text x="72.3" y="342.7" text-anchor="end">20</text><text x="72.3" y="277.9" text-anchor="end">40</text><text x="72.3" y="213.2" text-anchor="end">60</text><text x="72.3" y="148.4" text-anchor="end">80</text><text x="72.3" y="83.6" text-anchor="end">100</text><text x="72.3" y="18.8" text-anchor="end">120</text></g>
<rect x="386.5" y="392.5" width="265" height="56" fill="#fff" stroke="#262626" stroke-width="1"/>
<circle cx="419" cy="407.2" r="5.4" stroke="#0072bd" stroke-width="1.3" fill="none"/>
<path d="M392 433H445.7" stroke="#d95319" stroke-width="5.9"/>
<g font-size="20.3"><text x="450.6" y="416" textLength="195" lengthAdjust="spacingAndGlyphs">Experiment Results</text>
<text x="450.6" y="441.5" textLength="175.5" lengthAdjust="spacingAndGlyphs">Approximate Line</text></g>
</svg>
<div class="lbl" id="xl" style="left:264.85px;top:502.7px;font-size:28.5px"><span style="letter-spacing:-0.9px">Ideal</span><span class="hy" style="transform:scaleX(1.8);margin:0 3.55px 0 1.7px">-</span>Stride [mm]</div>
<div class="lbl" id="yl" style="left:-1px;top:376.4px;font-size:28.5px;transform-origin:0 0;transform:rotate(-90deg)"><span style="letter-spacing:-0.95px">Measured</span><span class="hy" style="transform:scaleX(1.45);margin:0 2.25px 0 0.45px">-</span><span style="letter-spacing:0.2px">Stride [mm]</span></div>
</body></html>
